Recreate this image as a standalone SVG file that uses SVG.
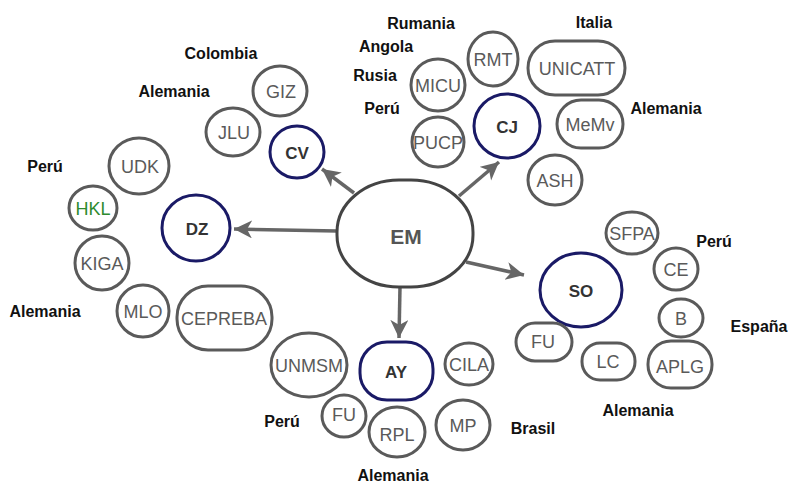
<svg xmlns="http://www.w3.org/2000/svg" width="788" height="482" viewBox="0 0 788 482">
<style>
.n{fill:#fff;stroke:#5a5a5a;stroke-width:3}
.k{fill:#fff;stroke:#1a1a66;stroke-width:3}
.t{font-family:"Liberation Sans",Arial,sans-serif;font-size:18px;fill:#5a5a5a;text-anchor:middle;dominant-baseline:central}
.b{font-family:"Liberation Sans",Arial,sans-serif;font-size:17px;font-weight:bold;fill:#333;text-anchor:middle;dominant-baseline:central}
.c{font-family:"Liberation Sans",Arial,sans-serif;font-size:16px;font-weight:bold;fill:#111;text-anchor:middle;dominant-baseline:central}
.e{stroke:#666;stroke-width:3.5;fill:none;marker-end:url(#ah)}
</style>
<defs>
<marker id="ah" markerUnits="userSpaceOnUse" markerWidth="20" markerHeight="20" refX="18" refY="9" orient="auto">
<path d="M0,0 L18,9 L0,18 L5,9 Z" fill="#666"/>
</marker>
</defs>
<rect width="788" height="482" fill="#fff"/>
<g id="connectors">
<line class="e" x1="354" y1="193" x2="322" y2="169"/>
<line class="e" x1="459" y1="196" x2="499" y2="162"/>
<line class="e" x1="337" y1="231" x2="234" y2="229"/>
<line class="e" x1="466" y1="262" x2="524" y2="275"/>
<line class="e" x1="400" y1="287" x2="399" y2="338"/>
</g>
<g id="EM"><rect class="n" x="337" y="180" width="136" height="107" rx="62" ry="52" style="stroke:#444"/><text class="b" x="406" y="236" style="font-size:21px;fill:#555">EM</text></g>
<g id="CV"><ellipse class="k" cx="297" cy="152" rx="27" ry="26"/><text class="b" x="297" y="153">CV</text></g>
<g id="CJ"><ellipse class="k" cx="507" cy="126" rx="33" ry="32"/><text class="b" x="507" y="127">CJ</text></g>
<g id="DZ"><ellipse class="k" cx="196" cy="228" rx="34" ry="33"/><text class="b" x="197" y="229">DZ</text></g>
<g id="SO"><ellipse class="k" cx="581" cy="290" rx="41" ry="37"/><text class="b" x="581" y="291">SO</text></g>
<g id="AY"><rect class="k" x="360" y="342" width="73" height="58" rx="27"/><text class="b" x="396" y="372">AY</text></g>
<g id="GIZ"><ellipse class="n" cx="280" cy="91" rx="27" ry="25"/><text class="t" x="281" y="92">GIZ</text></g>
<g id="JLU"><ellipse class="n" cx="233" cy="132" rx="27" ry="24"/><text class="t" x="234" y="133">JLU</text></g>
<g id="UDK"><ellipse class="n" cx="139" cy="166" rx="30" ry="28"/><text class="t" x="140" y="167">UDK</text></g>
<g id="HKL"><ellipse class="n" cx="93" cy="208" rx="24" ry="22"/><text class="t" x="93" y="209" style="fill:#2e8b2e">HKL</text></g>
<g id="KIGA"><ellipse class="n" cx="102" cy="263" rx="27" ry="27"/><text class="t" x="102" y="264">KIGA</text></g>
<g id="MLO"><ellipse class="n" cx="143" cy="311" rx="26" ry="26"/><text class="t" x="143" y="312">MLO</text></g>
<g id="CEPREBA"><rect class="n" x="177" y="286" width="95" height="64" rx="31"/><text class="t" x="224" y="319">CEPREBA</text></g>
<g id="RMT"><ellipse class="n" cx="493" cy="59" rx="25" ry="27"/><text class="t" x="493" y="60">RMT</text></g>
<g id="MICU"><ellipse class="n" cx="438" cy="85" rx="27" ry="26"/><text class="t" x="438" y="86">MICU</text></g>
<g id="PUCP"><ellipse class="n" cx="438" cy="142" rx="26" ry="25"/><text class="t" x="438" y="143">PUCP</text></g>
<g id="UNICATT"><rect class="n" x="528" y="41" width="97" height="54" rx="27"/><text class="t" x="577" y="69">UNICATT</text></g>
<g id="MeMv"><rect class="n" x="557" y="100" width="66" height="48" rx="24"/><text class="t" x="590" y="125">MeMv</text></g>
<g id="ASH"><ellipse class="n" cx="555" cy="180" rx="27" ry="25"/><text class="t" x="555" y="181">ASH</text></g>
<g id="SFPA"><ellipse class="n" cx="632" cy="233" rx="26" ry="21"/><text class="t" x="632" y="234">SFPA</text></g>
<g id="CE"><ellipse class="n" cx="676" cy="269" rx="22" ry="21"/><text class="t" x="676" y="270">CE</text></g>
<g id="B"><ellipse class="n" cx="681" cy="318" rx="22" ry="19"/><text class="t" x="681" y="319">B</text></g>
<g id="FU1"><rect class="n" x="516" y="323" width="56" height="38" rx="19"/><text class="t" x="543" y="342">FU</text></g>
<g id="LC"><rect class="n" x="582" y="343" width="53" height="37" rx="18"/><text class="t" x="608" y="362">LC</text></g>
<g id="APLG"><rect class="n" x="648" y="341" width="64" height="47" rx="23"/><text class="t" x="680" y="367">APLG</text></g>
<g id="UNMSM"><ellipse class="n" cx="309" cy="365" rx="38" ry="32"/><text class="t" x="309" y="366">UNMSM</text></g>
<g id="CILA"><ellipse class="n" cx="469" cy="364" rx="24" ry="21"/><text class="t" x="469" y="365">CILA</text></g>
<g id="FU2"><ellipse class="n" cx="344" cy="416" rx="22" ry="21"/><text class="t" x="344" y="415">FU</text></g>
<g id="RPL"><ellipse class="n" cx="397" cy="432" rx="28" ry="25"/><text class="t" x="397" y="435">RPL</text></g>
<g id="MP"><ellipse class="n" cx="463" cy="425" rx="27" ry="25"/><text class="t" x="463" y="426">MP</text></g>
<g id="labels">
<text class="c" x="221" y="53">Colombia</text>
<text class="c" x="174" y="91">Alemania</text>
<text class="c" x="45" y="166">Perú</text>
<text class="c" x="45" y="311">Alemania</text>
<text class="c" x="421" y="23">Rumania</text>
<text class="c" x="386" y="46">Angola</text>
<text class="c" x="375" y="75">Rusia</text>
<text class="c" x="382" y="108">Perú</text>
<text class="c" x="594" y="22">Italia</text>
<text class="c" x="666" y="108">Alemania</text>
<text class="c" x="714" y="241">Perú</text>
<text class="c" x="759" y="326">España</text>
<text class="c" x="638" y="410">Alemania</text>
<text class="c" x="282" y="421">Perú</text>
<text class="c" x="533" y="428">Brasil</text>
<text class="c" x="393" y="475">Alemania</text>
</g>
</svg>
